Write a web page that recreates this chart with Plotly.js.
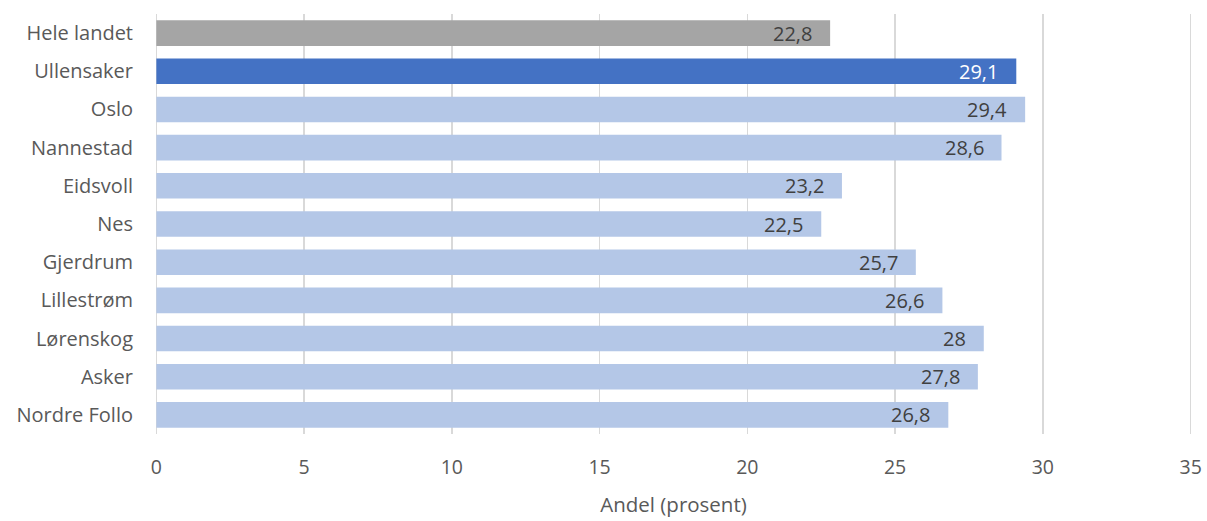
<!DOCTYPE html>
<html><head><meta charset="utf-8">
<script src="https://cdn.plot.ly/plotly-3.0.1.min.js"></script>
<style>html,body{margin:0;padding:0;background:#fff}#c{width:1207px;height:521px}</style>
</head><body><div id="c"></div>
<script>
const categories = ["Hele landet","Ullensaker","Oslo","Nannestad","Eidsvoll","Nes","Gjerdrum","Lillestrøm","Lørenskog","Asker","Nordre Follo"];
const values = [22.8,29.1,29.4,28.6,23.2,22.5,25.7,26.6,28,27.8,26.8];
const labels = ["22,8","29,1","29,4","28,6","23,2","22,5","25,7","26,6","28","27,8","26,8"];
const xTicks = [0,5,10,15,20,25,30,35];

const colors = categories.map((c,i)=> i===0 ? "#a5a5a5" : (i===1 ? "#4472c4" : "#b4c7e7"));
const font = "Open Sans, Noto Sans, sans-serif";

const trace = {
  type: "bar", orientation: "h",
  y: categories, x: values,
  marker: {color: colors},
  hoverinfo: "none"
};
const annotations = categories.map((c,i)=>({
  x: values[i], y: c, xref: "x", yref: "y",
  text: labels[i], showarrow: false, xanchor: "right", xshift: -16,
  font: {family: font, size: 20, color: i===1 ? "#ffffff" : "#404040"}
}));
const layout = {
  width: 1207, height: 521,
  margin: {l: 153.6, r: 13.6, t: 14, b: 87},
  paper_bgcolor: "#fff", plot_bgcolor: "#fff",
  bargap: 0.33,
  showlegend: false,
  font: {family: font, color: "#595959", size: 20},
  xaxis: {
    range: [-0.08, 35.08], tickvals: xTicks, ticktext: xTicks.map(String),
    showgrid: true, gridcolor: "#d9d9d9", gridwidth: 1.3,
    zeroline: false, showline: false, ticks: "",
    ticklabelstandoff: 19,
    tickfont: {family: font, size: 19.5, color: "#595959"},
    title: {text: "Andel (prosent)", font: {family: font, size: 20.5, color: "#595959"}, standoff: 19}
  },
  yaxis: {
    autorange: "reversed", type: "category",
    showgrid: false, zeroline: false, showline: false, ticks: "",
    ticklabelstandoff: 20,
    tickfont: {family: font, size: 20, color: "#595959"}
  },
  annotations: annotations
};
Plotly.newPlot("c", [trace], layout, {staticPlot: true, displayModeBar: false});
</script></body></html>
